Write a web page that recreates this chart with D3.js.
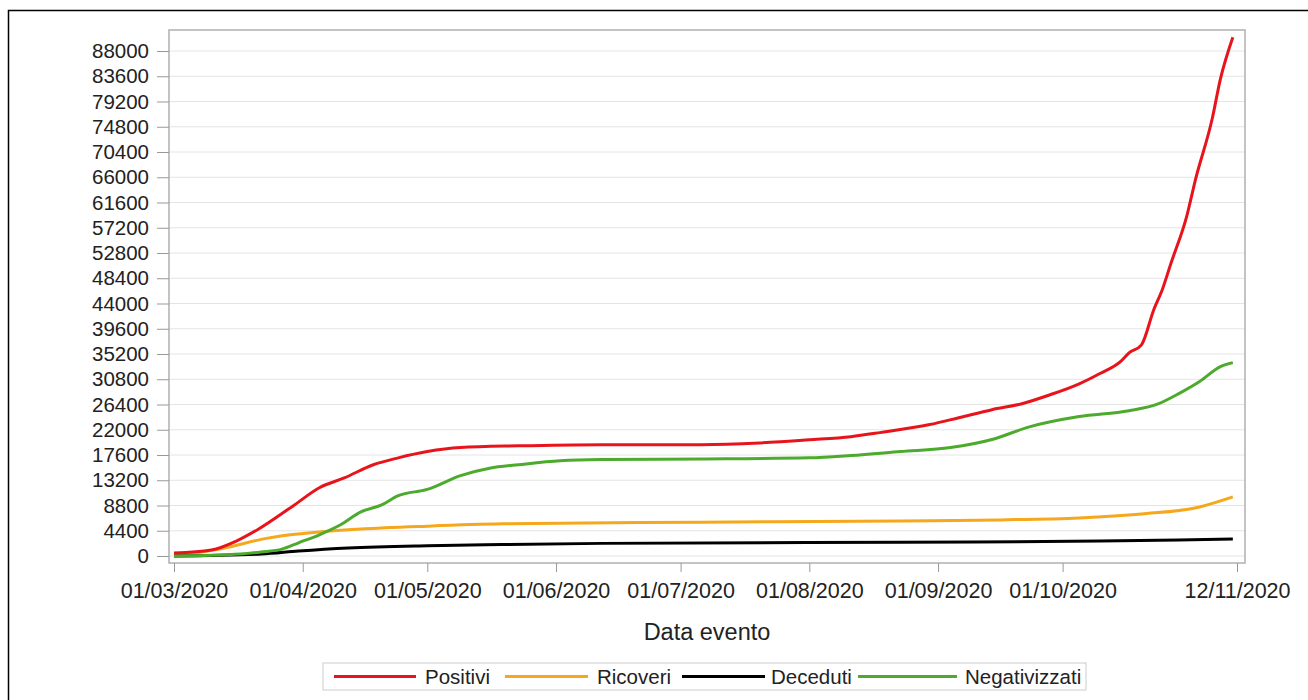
<!DOCTYPE html>
<html><head><meta charset="utf-8">
<script src="https://cdn.jsdelivr.net/npm/d3@7"></script>
<style>body{margin:0;background:#fff}svg{font-family:"Liberation Sans",Arial,sans-serif}</style>
</head><body><svg id="c" width="1308" height="700"></svg>
<script>
const startDate = new Date(2020,2,1);
const positiviDays = [0,9,15,20,29,35,41,48,54,61,69,83,103,127,141,153,163,170,182,189,197,204,211,218,223,228,230,233,236,238,240,244,246,250,252,255];
const positiviVals = [520,1050,2600,4540,8900,11900,13600,15900,17100,18200,18900,19200,19400,19400,19700,20250,20800,21500,22900,24100,25500,26500,28100,30000,31800,33900,35400,36800,43000,46400,50800,59500,65600,76100,83100,90400];
const ricoveriDays = [0,6,13,21,28,35,45,61,79,127,175,199,218,233,247,255];
const ricoveriVals = [170,600,1500,2900,3700,4200,4700,5200,5600,5900,6100,6290,6630,7330,8550,10300];
const decedutiDays = [0,21,30,42,61,79,103,175,223,242,255];
const decedutiVals = [0,350,870,1400,1800,2000,2200,2400,2600,2800,2970];
const negativDays = [0,16,21,26,30,35,40,45,50,54,61,69,76,83,93,103,127,153,163,175,187,197,206,218,230,237,242,247,252,255];
const negativVals = [0,350,700,1200,2300,3700,5400,7700,8900,10500,11600,14000,15300,15900,16600,16800,16900,17100,17500,18200,18900,20300,22500,24300,25300,26500,28300,30400,33000,33700];
const yTicks = d3.range(0,88001,4400);
const xTickLabels = ["01/03/2020","01/04/2020","01/05/2020","01/06/2020","01/07/2020","01/08/2020","01/09/2020","01/10/2020","12/11/2020"];
const seriesNames = ["Positivi","Ricoveri","Deceduti","Negativizzati"];
const colors = ["#e8141c","#f5a81c","#000000","#4caa2c"];

const parse = d3.timeParse("%d/%m/%Y");
const series = [[positiviDays,positiviVals],[ricoveriDays,ricoveriVals],[decedutiDays,decedutiVals],[negativDays,negativVals]]
  .map(([d,v]) => d.map((k,i)=>({date:d3.timeDay.offset(startDate,k), v:v[i]})));

const svg = d3.select("#c");
svg.append("rect").attr("x",8.5).attr("y",10.5).attr("width",1320).attr("height",720).attr("fill","none").attr("stroke","#000").attr("stroke-width",1.5);

const L=169,R=1245,T=30,B=563;
const x = d3.scaleTime().domain([startDate, parse("12/11/2020")]).range([174,1237]);
const y = d3.scaleLinear().domain([0,88000]).range([556,51]);

svg.append("g").selectAll("line").data(yTicks).join("line")
  .attr("x1",L).attr("x2",R).attr("y1",d=>y(d)).attr("y2",d=>y(d)).attr("stroke","#e4e4e4").attr("stroke-width",1);
svg.append("rect").attr("x",L).attr("y",T).attr("width",R-L).attr("height",B-T).attr("fill","none").attr("stroke","#b0b0b0").attr("stroke-width",1.5);

const ya = svg.append("g").attr("transform",`translate(${L},0)`)
  .call(d3.axisLeft(y).tickValues(yTicks).tickFormat(d3.format("d")).tickSize(12).tickPadding(8));
ya.select(".domain").remove();
ya.selectAll("line").attr("stroke","#999");
ya.selectAll("text").attr("font-size",20.5).attr("fill","#222").attr("font-family","Liberation Sans, Arial");

const xa = svg.append("g").attr("transform",`translate(0,${B})`)
  .call(d3.axisBottom(x).tickValues(xTickLabels.map(parse)).tickFormat(d3.timeFormat("%d/%m/%Y")).tickSize(9).tickPadding(11));
xa.select(".domain").remove();
xa.selectAll("line").attr("stroke","#999");
xa.selectAll("text").attr("font-size",21.5).attr("fill","#222").attr("font-family","Liberation Sans, Arial");

svg.append("text").attr("x",707).attr("y",640).attr("text-anchor","middle").attr("font-size",23.5).attr("fill","#222").text("Data evento");

const line = d3.line().x(d=>x(d.date)).y(d=>y(d.v)).curve(d3.curveMonotoneX);
[1,2,3,0].forEach(i=>{
  svg.append("path").attr("d",line(series[i])).attr("fill","none").attr("stroke",colors[i]).attr("stroke-width",3);
});

svg.append("rect").attr("x",323).attr("y",663).attr("width",763).attr("height",27).attr("fill","#fff").attr("stroke","#ccc");
const lx=[[334,416,425],[505,588,597],[682,765,771],[858,957,965]];
seriesNames.forEach((n,i)=>{
  svg.append("line").attr("x1",lx[i][0]).attr("x2",lx[i][1]).attr("y1",676.5).attr("y2",676.5).attr("stroke",colors[i]).attr("stroke-width",3);
  svg.append("text").attr("x",lx[i][2]).attr("y",684).attr("font-size",20.5).attr("fill","#222").text(n);
});
</script></body></html>
